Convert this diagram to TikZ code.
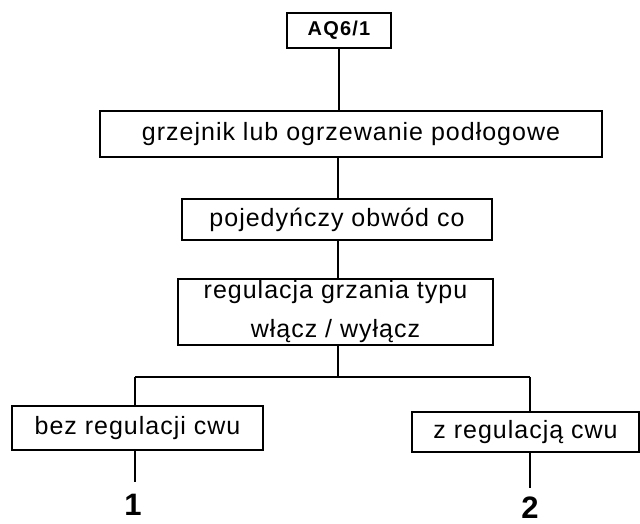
\documentclass[tikz,border=0pt]{standalone}
\usepackage{fontspec}
\setmainfont{Liberation Sans}
\newfontfamily\boxfont[LetterSpace=4]{Liberation Sans}
\newfontfamily\aqfont[LetterSpace=6]{Liberation Sans}
\begin{document}
\begin{tikzpicture}[x=1pt,y=-1pt,
  box/.style={draw, line width=1.6pt, inner sep=0pt, font=\boxfont\fontsize{25}{39}\selectfont, align=center},
  conn/.style={line width=1.6pt},
  num/.style={font=\bfseries\fontsize{31}{31}\selectfont, inner sep=0pt}]
\useasboundingbox (0,0) rectangle (640,524);
\node[box, minimum width=104pt, minimum height=35pt, font=\aqfont\bfseries\fontsize{20}{22}\selectfont] (aq) at (339,30.5) {AQ6/1};
\node[box, minimum width=502pt, minimum height=46pt] (b2) at (351,134) {grzejnik lub ogrzewanie podłogowe};
\node[box, minimum width=310pt, minimum height=41pt] (b3) at (337,219.5) {pojedyńczy obwód co};
\node[box, minimum width=315pt, minimum height=66pt] (b4) at (335.5,312) {regulacja grzania typu\\włącz / wyłącz};
\node[box, minimum width=251pt, minimum height=44pt] (bl) at (137.5,428) {bez regulacji cwu};
\node[box, minimum width=227pt, minimum height=40pt] (br) at (525.5,432) {z regulacją cwu};
\node[num] (n1) at (133,505) {1};
\node[num] (n2) at (530,508) {2};
\coordinate (j) at (338,377);
\coordinate (jl) at (135,377);
\coordinate (jr) at (530,377);
\coordinate (e1) at (135,482);
\coordinate (e2) at (530,488);
\draw[conn] (aq.south) -- (aq.south |- b2.north);
\draw[conn] (338,157) -- (338,199);
\draw[conn] (b3.south -| j) -- (b4.north -| j);
\draw[conn] (b4.south -| j) -- (j);
\draw[conn] (jl) -- (jr);
\draw[conn] (jl) -- (jl |- bl.north);
\draw[conn] (jr) -- (jr |- br.north);
\draw[conn] (jl |- bl.south) -- (e1);
\draw[conn] (jr |- br.south) -- (e2);
\end{tikzpicture}
\end{document}
